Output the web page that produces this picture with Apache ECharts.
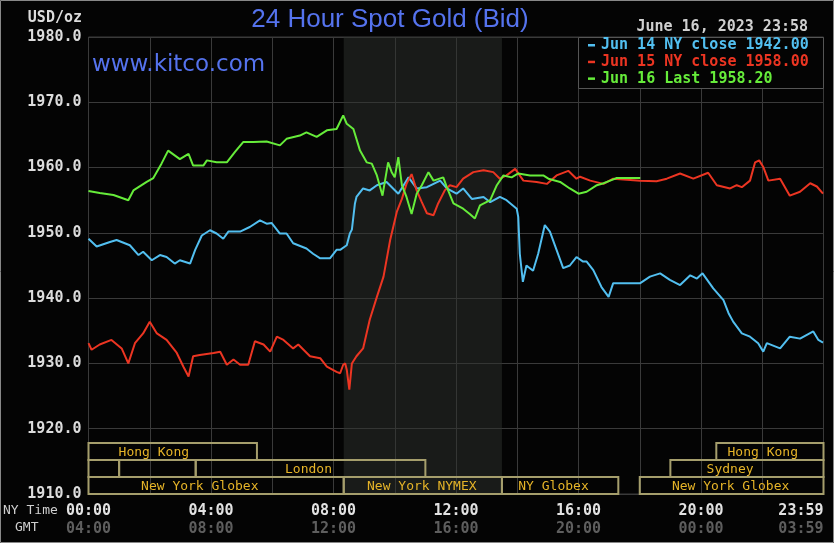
<!DOCTYPE html>
<html><head><meta charset="utf-8">
<script src="https://cdn.jsdelivr.net/npm/echarts@6/dist/echarts.min.js"></script>
<style>html,body{margin:0;padding:0;background:#040404}#c{width:834px;height:543px}</style>
</head><body><div id="c"></div>
<script>
// ---- data (time = minutes after 00:00 NY time) ----
const jun14Min = [0,16,42,55,81,98,107,124,140,153,169,179,199,209,222,238,251,264,274,297,316,336,349,359,375,388,401,427,440,454,473,486,493,506,512,516,522,525,538,551,565,584,607,627,643,663,689,702,721,734,751,774,787,806,819,839,842,845,851,858,871,881,894,904,917,930,943,956,969,976,989,1005,1019,1028,1081,1100,1120,1139,1159,1179,1192,1203,1224,1244,1254,1263,1280,1296,1312,1322,1329,1355,1374,1394,1420,1430,1439];
const jun14Val = [1949.1,1947.9,1948.6,1948.9,1948.1,1946.6,1947.1,1945.8,1946.6,1946.3,1945.3,1945.8,1945.3,1947.4,1949.6,1950.4,1949.9,1949.1,1950.2,1950.2,1950.9,1951.9,1951.4,1951.5,1949.9,1949.9,1948.4,1947.6,1946.8,1946.1,1946.1,1947.4,1947.4,1948.1,1949.9,1950.5,1954.5,1955.5,1956.8,1956.5,1957.3,1957.8,1956.0,1958.5,1956.8,1957.0,1958.0,1956.8,1956.0,1956.8,1955.2,1955.5,1954.7,1955.5,1955.0,1953.7,1952.4,1946.8,1942.5,1945.0,1944.2,1946.8,1951.2,1950.2,1947.4,1944.6,1945.0,1946.3,1945.6,1945.6,1944.3,1941.7,1940.2,1942.3,1942.3,1943.3,1943.8,1942.8,1942.0,1943.5,1943.0,1943.8,1941.5,1939.7,1937.7,1936.4,1934.6,1934.1,1933.1,1931.8,1933.1,1932.3,1934.1,1933.8,1934.9,1933.6,1933.2];

const jun15Min = [0,6,22,45,65,78,91,107,120,134,153,173,186,196,205,218,245,258,271,284,297,313,326,343,356,369,382,401,411,434,454,467,486,493,499,503,506,511,516,525,538,551,565,578,591,604,614,623,633,643,653,663,676,685,698,708,721,734,754,774,793,806,819,836,852,878,898,917,940,956,963,983,1009,1028,1081,1113,1133,1159,1185,1214,1231,1257,1270,1280,1296,1306,1314,1322,1332,1355,1374,1394,1414,1427,1439];
const jun15Val = [1933.1,1932.1,1932.9,1933.6,1932.3,1930.0,1933.1,1934.6,1936.4,1934.6,1933.6,1931.6,1929.5,1928.0,1931.1,1931.3,1931.6,1931.8,1929.8,1930.6,1929.8,1929.8,1933.4,1932.9,1931.8,1934.1,1933.6,1932.3,1932.9,1931.1,1930.8,1929.5,1928.7,1928.5,1929.8,1930.0,1929.0,1926.0,1930.0,1931.1,1932.3,1936.7,1940.2,1943.3,1948.9,1953.2,1955.2,1957.5,1959.0,1956.5,1954.7,1953.0,1952.7,1954.5,1956.5,1957.3,1957.0,1958.3,1959.3,1959.6,1959.3,1958.3,1958.8,1959.8,1958.0,1957.8,1957.5,1958.8,1959.5,1958.3,1958.6,1958.0,1957.5,1958.3,1958.0,1957.9,1958.3,1959.1,1958.3,1959.2,1957.3,1956.8,1957.3,1957.0,1958.0,1960.8,1961.1,1960.1,1958.0,1958.3,1955.7,1956.3,1957.6,1957.1,1956.0];

const jun16Min = [0,22,49,78,88,114,127,143,156,179,196,205,225,232,251,271,287,303,323,349,375,388,414,427,447,467,486,499,506,519,532,545,555,565,576,587,594,600,607,614,623,633,643,653,666,676,695,702,715,734,747,757,767,787,800,813,829,842,865,891,901,924,943,960,976,996,1009,1022,1035,1081];
const jun16Val = [1956.4,1956.1,1955.8,1955.0,1956.5,1957.8,1958.4,1960.6,1962.6,1961.3,1962.1,1960.3,1960.3,1961.1,1960.8,1960.8,1962.4,1963.9,1963.9,1964.0,1963.4,1964.4,1964.9,1965.4,1964.7,1965.7,1965.9,1968.0,1966.7,1965.9,1962.6,1960.8,1960.6,1958.8,1955.7,1960.8,1959.3,1958.5,1961.6,1957.3,1955.5,1952.9,1956.0,1957.3,1959.3,1958.0,1958.5,1957.0,1954.5,1953.7,1952.9,1952.2,1954.2,1955.0,1957.3,1958.8,1958.5,1959.1,1958.8,1958.8,1958.3,1957.8,1956.8,1956.0,1956.3,1957.3,1957.6,1958.0,1958.4,1958.4];

const seriesNames = ['Jun 14 NY close', 'Jun 15 NY close', 'Jun 16 Last'];
const legendLabels = ['Jun 14 NY close 1942.00', 'Jun 15 NY close 1958.00', 'Jun 16 Last 1958.20'];
const yTicks = [1910, 1920, 1930, 1940, 1950, 1960, 1970, 1980];
const nyTickLabels = {0:'00:00', 240:'04:00', 480:'08:00', 720:'12:00', 960:'16:00', 1200:'20:00', 1440:'23:59'};
const gmtTickLabels = {0:'04:00', 240:'08:00', 480:'12:00', 720:'16:00', 960:'20:00', 1200:'00:00', 1440:'03:59'};
const nymexShade = [500, 810];
// sessions: [startMin, endMin, row (0 = bottom), label, labelAtMin]
const sessStart = [0, 1230, 0, 60, 210, 1140, 0, 500, 810, 1080];
const sessEnd   = [330, 1440, 60, 210, 660, 1440, 500, 810, 1038, 1440];
const sessRow   = [2, 2, 1, 1, 1, 1, 0, 0, 0, 0];
const sessLabel = ['Hong Kong', 'Hong Kong', '', '', 'London', 'Sydney', 'New York Globex', 'New York NYMEX', 'NY Globex', 'New York Globex'];
const sessLabelAt = [128, 1321, 0, 0, 431, 1257, 218, 653, 911, 1258];

const COLORS = ['#52bff0', '#ec3522', '#66ec3a'];
const MONO = 'DejaVu Sans Mono';
const pairs = (m, v) => m.map((t, i) => [t, v[i]]);

const chart = echarts.init(document.getElementById('c'), null, {renderer: 'canvas'});
const sessData = sessStart.map((s, i) => [s, sessEnd[i], sessRow[i], sessLabel[i], sessLabelAt[i]]);

const option = {
  backgroundColor: '#040404',
  animation: false,
  grid: {left: 88.5, right: 10.5, top: 37, bottom: 49, show: true, borderColor: '#3a3a3a', borderWidth: 1},
  xAxis: {
    type: 'value', min: 0, max: 1440, interval: 120,
    axisLine: {show: false}, axisTick: {show: false},
    splitLine: {show: true, lineStyle: {color: '#3a3a3a', width: 1}},
    axisLabel: {
      showMinLabel: true, showMaxLabel: true, alignMaxLabel: 'right', margin: 8,
      formatter: v => nyTickLabels[v] !== undefined ? '{a|' + nyTickLabels[v] + '}\n{b|' + gmtTickLabels[v] + '}' : '',
      rich: {
        a: {fontFamily: MONO, fontWeight: 'bold', fontSize: 15, color: '#e2e2e2', lineHeight: 18},
        b: {fontFamily: MONO, fontWeight: 'bold', fontSize: 15, color: '#5e5e5e', lineHeight: 18}
      }
    }
  },
  yAxis: {
    type: 'value', min: yTicks[0], max: yTicks[yTicks.length - 1], interval: 10,
    axisLine: {show: false}, axisTick: {show: false},
    splitLine: {show: true, lineStyle: {color: '#3a3a3a', width: 1}},
    axisLabel: {margin: 7, fontFamily: MONO, fontWeight: 'bold', fontSize: 15, color: '#dcdcdc',
      formatter: v => v.toFixed(1)}
  },
  series: [
    {name: seriesNames[0], type: 'line', data: pairs(jun14Min, jun14Val), showSymbol: false,
      lineStyle: {color: COLORS[0], width: 2}, itemStyle: {color: COLORS[0]},
      markArea: {silent: true, itemStyle: {color: 'rgba(46,50,46,0.5)'},
        data: [[{xAxis: nymexShade[0]}, {xAxis: nymexShade[1]}]]}},
    {name: seriesNames[1], type: 'line', data: pairs(jun15Min, jun15Val), showSymbol: false,
      lineStyle: {color: COLORS[1], width: 2}, itemStyle: {color: COLORS[1]}},
    {name: seriesNames[2], type: 'line', data: pairs(jun16Min, jun16Val), showSymbol: false,
      lineStyle: {color: COLORS[2], width: 2}, itemStyle: {color: COLORS[2]}},
    {type: 'custom', data: sessData, z: 5, silent: true,
      renderItem: (params, api) => {
        const cs = params.coordSys;
        const rowH = 17;
        const bottom = cs.y + cs.height;
        const x0 = api.coord([api.value(0), 1910])[0];
        const x1 = api.coord([api.value(1), 1910])[0];
        const row = api.value(2);
        const y0 = bottom - (row + 1) * rowH;
        const children = [{type: 'rect', shape: {x: x0, y: y0, width: x1 - x0, height: rowH},
          style: {fill: 'none', stroke: '#a59e6c', lineWidth: 2}}];
        const lab = sessLabel[params.dataIndex];
        if (lab) {
          children.push({type: 'text', style: {text: lab, x: api.coord([api.value(4), 1910])[0], y: y0 + rowH / 2 + 1,
            align: 'center', verticalAlign: 'middle', fill: '#e6b428', font: '13px ' + MONO}});
        }
        return {type: 'group', children};
      }}
  ],
  graphic: [
    {type: 'rect', z: 100, shape: {x: 0.5, y: 0.5, width: 833, height: 542}, style: {fill: 'none', stroke: '#888', lineWidth: 1}},
    {type: 'text', z: 100, style: {text: 'USD/oz', x: 82, y: 18, align: 'right', verticalAlign: 'middle', fill: '#dcdcdc', font: 'bold 15px ' + MONO}},
    {type: 'text', z: 100, style: {text: '24 Hour Spot Gold (Bid)', x: 390, y: 20, align: 'center', verticalAlign: 'middle', fill: '#5573ee', font: '26px "Liberation Sans", Arial, sans-serif'}},
    {type: 'text', z: 100, style: {text: 'www.kitco.com', x: 92, y: 65, align: 'left', verticalAlign: 'middle', fill: '#5573ee', font: '23px "DejaVu Sans", sans-serif'}},
    {type: 'text', z: 100, style: {text: 'June 16, 2023 23:58', x: 808, y: 27, align: 'right', verticalAlign: 'middle', fill: '#d0d0d0', font: 'bold 15px ' + MONO}},
    {type: 'rect', z: 100, shape: {x: 578.5, y: 37.5, width: 245, height: 51}, style: {fill: '#040404', stroke: '#555', lineWidth: 1}},
    ...legendLabels.flatMap((t, i) => [
      {type: 'rect', z: 101, shape: {x: 588, y: 44 + i * 16.7, width: 7, height: 2.5}, style: {fill: COLORS[i]}},
      {type: 'text', z: 101, style: {text: t, x: 601, y: 45.5 + i * 16.7, align: 'left', verticalAlign: 'middle', fill: COLORS[i], font: 'bold 15px ' + MONO}}
    ]),
    {type: 'text', z: 100, style: {text: 'NY Time', x: 3, y: 510.5, align: 'left', verticalAlign: 'middle', fill: '#cfcfcf', font: '13px ' + MONO}},
    {type: 'text', z: 100, style: {text: 'GMT', x: 15, y: 527.5, align: 'left', verticalAlign: 'middle', fill: '#cfcfcf', font: '13px ' + MONO}}
  ]
};
chart.setOption(option);
</script></body></html>
